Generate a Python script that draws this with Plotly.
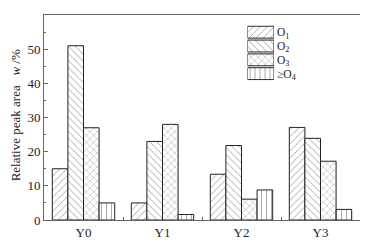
import plotly.graph_objects as go

categories = ["Y0", "Y1", "Y2", "Y3"]
series_names = ["O<sub>1</sub>", "O<sub>2</sub>", "O<sub>3</sub>", "≥O<sub>4</sub>"]
o1 = [15.0, 5.0, 13.4, 27.1]
o2 = [51.0, 23.0, 21.8, 23.9]
o3 = [27.0, 28.0, 6.1, 17.2]
o4 = [5.0, 1.6, 8.8, 3.1]
series_values = [o1, o2, o3, o4]
patterns = ["/", "\\", "x", "|"]
swatch_lengths = [1, 1, 1, 1]

font_family = "Liberation Serif"
ink = "#222"

def marker_for(pat):
    return dict(color="white",
                line=dict(color=ink, width=1),
                pattern=dict(shape=pat, fgcolor=ink, bgcolor="white",
                             size=5, solidity=0.15))

fig = go.Figure()
for name, vals, pat in zip(series_names, series_values, patterns):
    fig.add_trace(go.Bar(x=categories, y=vals, name=name,
                         marker=marker_for(pat), showlegend=False))

# legend drawn as pattern swatches on an overlay axis pair
for name, length, pat in zip(series_names, swatch_lengths, patterns):
    fig.add_trace(go.Bar(x=[length], y=[name], orientation="h",
                         xaxis="x2", yaxis="y2", marker=marker_for(pat),
                         offsetgroup="legend", width=0.86,
                         showlegend=False, hoverinfo="skip"))

axis_common = dict(showline=True, linecolor="#666", linewidth=1, mirror=True,
                   showgrid=False, zeroline=False, automargin=False,
                   tickfont=dict(family=font_family, size=13, color=ink))

# the page body keeps its default 8px margin, so the figure is 8px smaller
fig.update_layout(
    width=360, height=236,
    margin=dict(l=36, r=8, t=7, b=24, autoexpand=False),
    paper_bgcolor="white", plot_bgcolor="white",
    barmode="group", bargap=0.21, bargroupgap=0.0,
    font=dict(family=font_family, size=13, color=ink),
    xaxis=dict(**axis_common, ticks="inside", ticklen=3, tickcolor="#666",
               tickson="boundaries"),
    yaxis=dict(**axis_common, range=[0, 60], dtick=10, ticks="inside",
               ticklen=4, tickcolor="#666",
               minor=dict(ticks="inside", ticklen=2, dtick=5, tickcolor="#666")),
    xaxis2=dict(domain=[0.644, 0.728], range=[0, 1], anchor="y2",
                visible=False, fixedrange=True, automargin=False),
    yaxis2=dict(domain=[0.68, 0.95], anchor="x2", side="right",
                autorange="reversed", showline=False, showgrid=False,
                zeroline=False, ticks="", ticklabelstandoff=2,
                tickmode="array", tickvals=series_names, automargin=False,
                tickfont=dict(family=font_family, size=11.5, color=ink),
                fixedrange=True),
    annotations=[dict(text="Relative peak area   <i>w</i> /%",
                      xref="paper", yref="paper", x=-0.089, y=0.51,
                      xanchor="center", yanchor="middle", textangle=-90,
                      showarrow=False,
                      font=dict(family=font_family, size=13, color=ink))],
    showlegend=False,
)

fig.write_html("out.html")
